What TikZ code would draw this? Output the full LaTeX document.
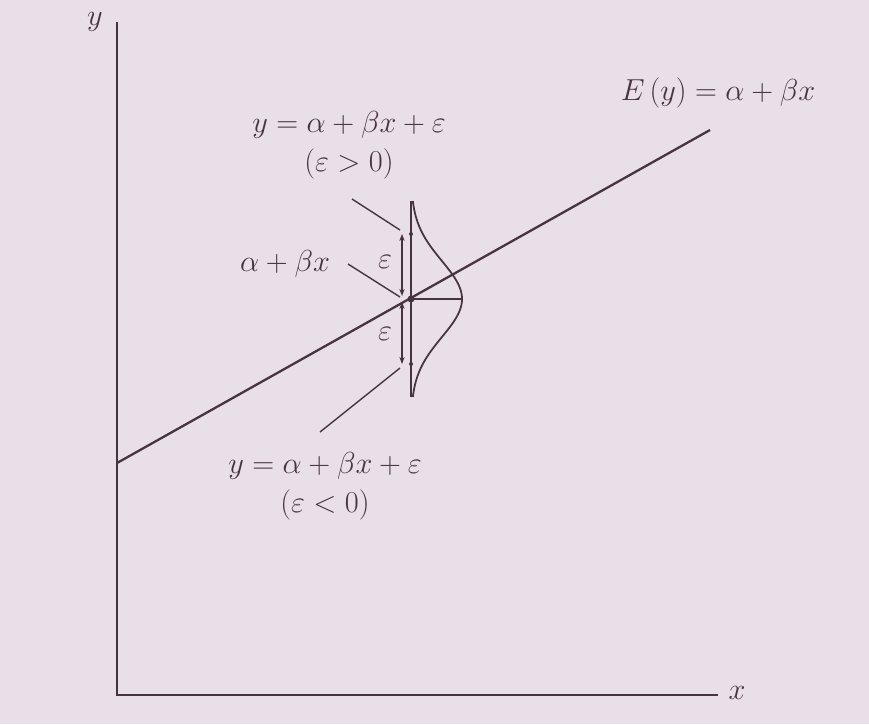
\documentclass[tikz,border=0pt]{standalone}
\usepackage{amsmath}
\usetikzlibrary{arrows.meta}
\definecolor{paper}{RGB}{232,223,232}
\definecolor{ink}{RGB}{72,52,62}
\tikzset{
  lbl/.style={ink, font=\LARGE},
  pointer/.style={ink, line width=0.8pt},
  gap/.style={ink, line width=0.6pt, {Stealth[length=4pt,width=3pt]}-{Stealth[length=4pt,width=3pt]}}
}
\begin{document}
\begin{tikzpicture}
                \fill[paper] (0,0) rectangle (17.38,14.48);
                \useasboundingbox (0,0) rectangle (17.38,14.48);

                % Axes
                \coordinate (o) at (2.34,0.58);
                \coordinate (ytop) at (2.34,14.04);
                \coordinate (xend) at (14.36,0.58);
                \draw[ink, line width=1.1pt] (ytop) -- (o) -- (xend);
                \node[lbl] (ylab) at (1.90,14.04) {$y$};
                \node[lbl] (xlab) at (14.74,0.62) {$x$};

                % Regression line E(y)
                \coordinate (rstart) at (2.34,5.22);
                \coordinate (rend) at (14.20,11.88);
                \draw[ink, line width=1.3pt] (rstart) -- (rend);
                \node[lbl] (ey) at (14.36,12.62) {$E\,(y) = \alpha + \beta x$};

                % Error distribution at one x
                \coordinate (mean) at (8.22,8.50);
                \coordinate (vtop) at (8.22,10.46);
                \coordinate (vbot) at (8.22,6.54);
                \coordinate (peak) at (9.24,8.50);
                \draw[ink, line width=1pt] (vtop) -- (vbot);
                \draw[ink, line width=1pt, domain=-1.96:1.96, samples=100]
                  plot ({8.22 + 1.02*exp(-(\x*\x)/(2*0.76*0.76))}, {8.50 + \x});
                \draw[ink, line width=0.8pt] (mean) -- (peak);

                % Observed points and errors
                \coordinate (obsup) at (8.22,9.80);
                \coordinate (obsdn) at (8.22,7.20);
                \fill[ink] (mean) circle (0.07);
                \fill[ink] (obsup) circle (0.04);
                \fill[ink] (obsdn) circle (0.04);
                \coordinate (eupt) at (8.04,9.80);
                \coordinate (eupb) at (8.04,8.56);
                \coordinate (edt) at (8.04,8.44);
                \coordinate (edb) at (8.04,7.20);
                \draw[gap] (eupt) -- (eupb);
                \draw[gap] (edt) -- (edb);
                \node[lbl] (epsup) at (7.70,9.25) {$\varepsilon$};
                \node[lbl] (epsdn) at (7.70,7.80) {$\varepsilon$};

                % Annotations
                \node[lbl, align=center] (upper) at (6.98,11.58)
                  {$y = \alpha + \beta x + \varepsilon$\\$(\varepsilon > 0)$};
                \node[lbl] (mid) at (5.70,9.20) {$\alpha + \beta x$};
                \node[lbl, align=center] (lower) at (6.50,4.75)
                  {$y = \alpha + \beta x + \varepsilon$\\$(\varepsilon < 0)$};

                \coordinate (pupS) at (7.04,10.50);
                \coordinate (pupE) at (8.00,9.88);
                \coordinate (pmidS) at (6.96,9.20);
                \coordinate (pmidE) at (8.00,8.54);
                \coordinate (plowS) at (6.40,5.84);
                \coordinate (plowE) at (8.00,7.12);
                \draw[pointer] (pupS) -- (pupE);
                \draw[pointer] (pmidS) -- (pmidE);
                \draw[pointer] (plowS) -- (plowE);
            \end{tikzpicture}
\end{document}
